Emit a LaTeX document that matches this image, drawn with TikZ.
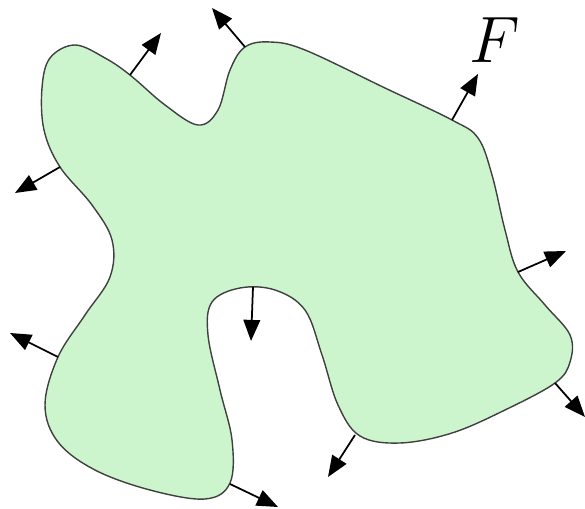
\documentclass[tikz,border=0pt]{standalone}
\usepackage{amsmath,amssymb}
\usetikzlibrary{arrows.meta}
\definecolor{bodygreen}{RGB}{205,245,205}

\begin{document}
\begin{tikzpicture}[x=0.02cm, y=-0.02cm, >={Triangle[length=12pt, width=9.5pt]},
	force/.style={->, line width=1pt, black}]
	\useasboundingbox (0,0) rectangle (585,509);
	% the body
	\draw[line width=0.8pt, black!75, fill=bodygreen] plot[smooth cycle, tension=0.6] coordinates {
		(75,45) (105,58) (130,75) (165,105) (198,125) (218,110) (230,70) (245,47)
		(270,42) (305,50) (385,88) (452,120) (478,138) (492,175) (505,230) (518,272)
		(545,305) (570,335) (570,362) (555,383) (505,410) (452,433) (400,443) (360,436)
		(338,405) (322,355) (305,310) (275,290) (240,288) (212,302) (208,335) (220,390)
		(232,440) (230,483) (205,499) (150,490) (95,470) (58,442) (45,405) (58,357)
		(85,315) (110,277) (112,240) (92,205) (60,167) (44,130) (42,88) (50,58)};
	% surface forces
	\foreach \bx/\by/\tx/\ty in {130/75/161/33, 245/47/212/8, 452/120/478/74,
		518/272/566/251, 555/383/585/417, 355/435/328/477, 230/484/278/507,
		253/287/251/341, 58/357/10/333, 60/167/15/193} {
		\draw[force] (\bx,\by) -- (\tx,\ty);
	}
	\node[scale=1.5] (F) at (495,40) {\Huge $F$};
\end{tikzpicture}
\end{document}
